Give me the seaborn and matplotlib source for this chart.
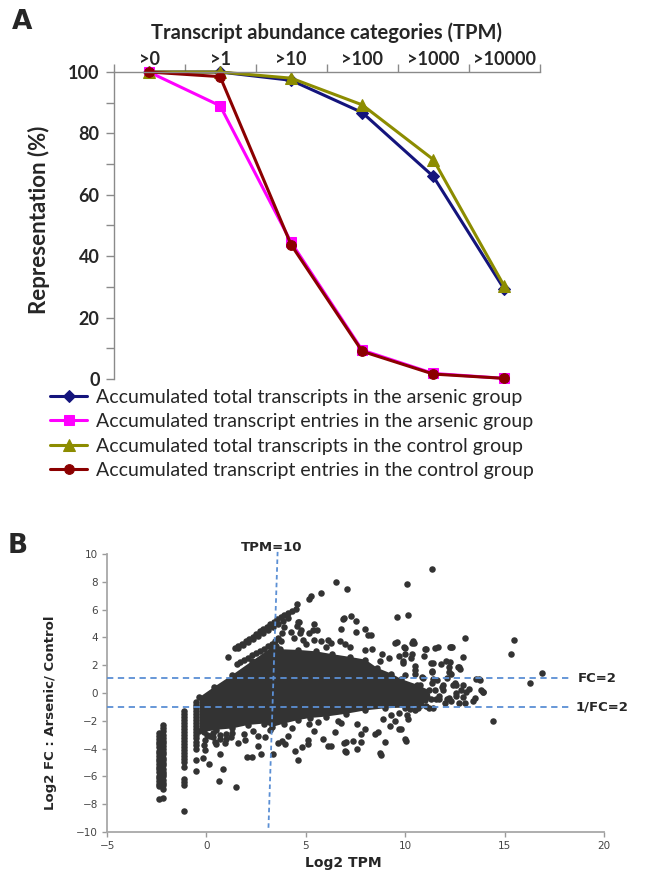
import numpy as np
import pandas as pd
import seaborn as sns
import matplotlib.pyplot as plt

# ---- panel A: accumulated representation per abundance category ----
categories = ['>0', '>1', '>10', '>100', '>1000', '>10000']
arsenic_total = [100, 100, 97.3, 86.8, 66.0, 29.2]
arsenic_entries = [100, 89.0, 44.5, 9.4, 1.8, 0.2]
control_total = [100, 100, 98.0, 89.3, 71.5, 30.2]
control_entries = [100, 98.5, 43.7, 9.0, 1.6, 0.2]
series_labels = ['Accumulated total transcripts in the arsenic group',
                 'Accumulated transcript entries in the arsenic group',
                 'Accumulated total transcripts in the control group',
                 'Accumulated transcript entries in the control group']

# ---- panel B: log2 FC vs log2 TPM ----
# outline of the solid dense core of the cloud
core_x = [-0.35, -0.1, 0.5, 1.3, 2.1, 2.9, 3.3, 3.9, 4.6, 5.2, 6.0, 7.0, 8.0, 9.0,
          10.0, 10.8, 11.3, 11.2, 10.6, 9.8, 9.3, 8.6, 8.0, 7.2, 6.3, 5.5, 4.6,
          3.7, 3.3, 2.3, 1.3, 0.4, -0.35]
core_y = [-2.7, -2.8, -2.65, -2.55, -2.3, -2.2, -2.45, -2.2, -1.95, -1.8, -1.7, -1.5,
          -1.25, -1.1, -1.05, -0.9, -0.4, 0.2, 0.6, 1.0, 1.4, 1.8, 2.4, 2.6, 2.8,
          3.0, 3.1, 3.15, 3.3, 2.3, 1.3, 0.45, -0.3]

# the two diagonal streaks above the core
streak_x = [1.45, 1.6, 1.8, 2.0, 2.15, 2.35, 2.5, 2.7, 2.85, 3.05, 3.2, 3.4, 3.55, 3.75,
            3.9, 4.1, 4.3, 4.5, 1.6, 1.85, 2.1, 2.35, 2.6, 2.85, 3.1, 3.35, 3.6, 3.85,
            4.1, 4.58, 5.15, 5.25, 5.75,
            1.54, 1.7, 1.9, 2.1, 2.3, 2.5, 2.7, 2.9, 3.1, 3.3, 3.45, 3.6, 3.8, 1.1]
streak_y = [3.2, 3.4, 3.55, 3.75, 3.9, 4.05, 4.25, 4.45, 4.6, 4.75, 4.95, 5.1, 5.3, 5.45,
            5.6, 5.75, 5.9, 6.05, 3.2, 3.45, 3.65, 3.85, 4.1, 4.3, 4.5, 4.75, 4.95, 5.2,
            5.4, 6.43, 6.76, 7.0, 7.22,
            2.1, 2.25, 2.4, 2.55, 2.7, 2.85, 3.0, 3.15, 3.35, 3.55, 3.75, 3.95, 4.3, 2.62]

# scattered points above the core
upper_x = [6.5, 7.06, 10.1, 11.33, 9.58, 10.15, 13.0, 15.46, 15.31, 16.9, 16.3,
           4.59, 4.72, 4.25, 4.42, 4.84, 5.18, 5.43, 3.91, 3.74, 3.49,
           7.26, 6.87, 7.52, 4.67, 5.43, 5.35, 6.75, 7.5, 7.97, 8.14, 9.58, 10.4,
           10.0, 11.0, 11.67, 12.35, 8.31, 6.7, 6.96, 6.11, 5.77, 6.28, 4.58, 4.75,
           8.82, 8.74, 9.67, 10.0, 10.35, 10.94, 11.28, 12.04, 12.2, 12.7, 12.9,
           11.36, 10.5, 9.9, 9.5, 9.94, 10.35, 11.5, 12.27, 12.65, 11.4, 11.82,
           12.24, 12.74, 12.32, 9.89, 10.3, 10.5, 9.97, 10.43, 11.06, 12.32, 5.56,
           8.27, 6.9, 7.2, 8.0, 9.2, 6.0, 5.0]
upper_y = [8.0, 7.5, 7.87, 8.94, 5.46, 5.63, 3.99, 3.82, 2.78, 1.45, 0.75,
           5.13, 4.35, 4.42, 3.95, 3.84, 4.3, 3.84, 4.78, 3.72, 3.36,
           5.53, 5.34, 5.18, 5.13, 4.96, 4.54, 4.59, 4.42, 4.59, 4.19, 3.65, 3.72,
           3.25, 3.18, 3.29, 3.32, 3.18, 3.72, 3.55, 3.84, 3.72, 3.6, 4.82, 4.54,
           2.78, 2.31, 2.66, 2.78, 2.78, 2.66, 2.19, 2.3, 1.84, 1.84, 2.61,
           1.6, 1.95, 2.19, 3.57, 3.33, 3.62, 3.2, 3.33, 1.88, 2.16, 2.07,
           2.25, 1.76, 1.4, 2.27, 2.52, 1.68, 1.3, 3.6, 3.14, 3.33, 4.54,
           4.18, 5.39, 3.3, 3.1, 2.5, 3.3, 3.5]

# right tail between the FC lines
right_x = [10.5, 11.36, 12.2, 13.7, 13.9, 13.4, 12.7, 12.0, 11.7, 12.55, 12.4, 11.36,
           10.5, 11.0, 10.2, 9.67, 10.5, 11.2, 12.2, 12.9, 11.9, 12.9, 13.2, 13.74,
           13.91, 13.5, 12.49, 12.82, 13.0, 12.58, 12.08, 11.57, 11.07, 10.65, 11.4,
           10.22, 13.57, 13.82, 10.85, 11.87, 12.55, 13.06, 11.7, 10.9, 10.73, 11.4,
           11.9, 11.6, 12.1, 11.5, 12.3]
right_y = [1.4, 1.5, 1.5, 0.97, 0.1, -0.6, -0.73, -0.73, -0.25, 0.0, 0.57, 0.69,
           0.45, -0.5, -0.96, -1.43, -1.2, -1.08, -0.35, -0.3, 0.2, 0.6, 0.3, 0.93,
           0.09, -0.35, 0.73, 0.2, -0.7, -0.22, -0.46, -0.41, -0.94, -1.06, -1.06,
           -1.18, 1.0, 0.19, 1.13, 0.42, 0.54, 0.07, -0.4, 1.07, 0.58, 1.0,
           0.6, 0.9, 1.1, 0.2, -0.6]

# scattered points below the core
lower_x = [-0.08, -0.1, -0.08, -0.17, 0.13, 0.67, 0.84, 0.64, 1.5, 2.27, 2.6, 3.36,
           4.6, 3.6, 3.95, 4.45, 4.8, 5.1, 1.6, 1.93, 0.92, 0.42, 0.34, 1.26, 0.34,
           0.67, 0.67, 1.0, 1.0, 0.05, 8.65, 8.99, 8.74, 10.0, 9.67, 9.25, 7.55,
           6.96, 6.28, 7.04, 7.8, 7.38, 7.97, 7.55, 6.79, 6.11, 5.86, 5.1, 5.43,
           5.18, 6.45, 7.8, 2.02, 2.75, 8.79, 7.02, 6.92, 10.04, 8.48, 1.9, 2.33,
           2.96, 3.79, 4.1, 3.2, 9.3, 10.1, 8.9, 9.5, 14.4, 10.13, 9.8, 1.3, 0.2,
           0.5, 2.6, 4.3, 5.6, 6.6]
lower_y = [-3.4, -3.75, -4.1, -4.7, -5.1, -4.4, -5.5, -6.3, -6.8, -4.6, -3.8, -4.4,
           -4.8, -3.6, -3.7, -4.2, -3.9, -3.65, -3.6, -3.4, -3.6, -3.5, -2.9, -3.2,
           -3.2, -3.0, -3.3, -2.95, -3.3, -3.0, -2.84, -3.5, -4.3, -3.3, -2.6, -2.37,
           -4.0, -4.14, -3.83, -3.5, -3.5, -3.43, -2.6, -2.25, -2.14, -3.78, -3.3,
           -3.4, -2.7, -2.26, -2.84, -2.96, -4.63, -4.39, -4.46, -4.27, -3.6, -3.42,
           -2.94, -2.94, -2.7, -3.18, -3.42, -3.06, -2.65, -1.6, -1.6, -1.9, -2.0,
           -2.02, -1.9, -2.62, -2.9, -3.1, -3.7, -3.1, -2.5, -2.1, -2.0]

# stacked columns at the low-abundance end
col1a_y = [-2.9, -3.1, -3.3, -3.55, -3.7, -3.9, -4.15, -4.3, -4.5, -4.75, -4.9, -5.1,
           -5.35, -5.5, -5.7, -5.95, -6.1, -6.3, -6.55, -6.7, -7.65]
col1b_y = [-2.3, -2.55, -2.75, -3.0, -3.25, -3.45, -3.6, -3.85, -4.05, -4.25, -4.4,
           -4.65, -4.85, -5.05, -5.2, -5.45, -5.65, -5.85, -6.0, -6.25, -6.45, -6.6,
           -6.9, -7.55]
col2_y = [-1.3, -1.5, -1.75, -1.95, -2.15, -2.4, -2.6, -2.8, -3.05, -3.25, -3.45,
          -3.7, -3.9, -4.1, -4.35, -4.55, -4.75, -5.0, -5.3, -6.2, -6.4, -6.6, -8.5]
col3_y = [-0.65, -0.85, -1.1, -1.3, -1.5, -1.75, -1.95, -2.15, -2.4, -2.6, -2.8,
          -3.05, -3.25, -3.5, -3.75, -4.0, -4.8, -5.6]
col_x = [-2.4, -2.17, -1.14, -0.55]

# guide lines
tpm_line_x = [3.12, 3.58]
tpm_line_y = [-9.7, 10.15]
fc_lines = [1.05, -1.0]
fc_line_end = 18.4

sns.set_style('white')
plt.rcParams['font.family'] = ['DejaVu Sans']

fig = plt.figure(figsize=(6.45, 8.72), dpi=100)

# ================= panel A =================
axa = fig.add_axes([0.176, 0.5654, 0.661, 0.352])
pos = np.arange(len(categories))
colors = ['#14147c', '#ff00ff', '#8c8c00', '#8b0000']
markers = ['D', 's', '^', 'o']
msizes = [6, 6.5, 8, 7]
for vals, lab, c, m, ms in zip([arsenic_total, arsenic_entries, control_total, control_entries],
                               series_labels, colors, markers, msizes):
    sns.lineplot(x=pos, y=vals, ax=axa, color=c, marker=m, markersize=ms, mec=c,
                 linewidth=2.2, label=lab, clip_on=False)

axa.set_xlim(-0.5, 5.5)
axa.set_ylim(0, 100)
axa.xaxis.tick_top()
axa.set_xticks(np.arange(-0.5, 6, 1))
axa.set_xticklabels([''] * 7)
axa.set_xticks(pos, minor=True)
axa.set_xticklabels(categories, minor=True, fontfamily='Lato', fontweight='bold', fontsize=13)
axa.tick_params(axis='x', which='major', length=6, width=1, color='#8a8a8a', direction='out')
axa.tick_params(axis='x', which='minor', length=0, pad=3, labeltop=True, labelbottom=False)
yt = np.arange(0, 101, 10)
axa.set_yticks(yt)
axa.set_yticklabels([str(v) if v % 20 == 0 else '' for v in yt],
                    fontfamily='Lato', fontweight='bold', fontsize=13)
axa.tick_params(axis='y', length=6, width=1, color='#8a8a8a', direction='out', pad=4, left=True)
for s in ['right', 'bottom']:
    axa.spines[s].set_visible(False)
for s in ['top', 'left']:
    axa.spines[s].set_color('#8a8a8a')
    axa.spines[s].set_linewidth(1)
axa.set_xlabel('')
axa.set_ylabel('')
axa.text(0.5, 1.127, 'Transcript abundance categories (TPM)', transform=axa.transAxes,
         ha='center', va='center', fontfamily='Lato', fontweight='bold', fontsize=14.5)
axa.text(-0.175, 0.518, 'Representation (%)', transform=axa.transAxes, rotation=90,
         ha='center', va='center', fontfamily='Lato', fontweight='bold', fontsize=16)

handles, labels = axa.get_legend_handles_labels()
axa.get_legend().remove()
fig.legend(handles, labels, loc='upper left', bbox_to_anchor=(0.078, 0.554), frameon=False,
           prop={'family': 'Lato', 'size': 14}, handlelength=1.9, handletextpad=0.45,
           labelspacing=0.38, borderpad=0, borderaxespad=0)

fig.text(0.018, 0.99, 'A', fontsize=19, fontweight='bold', va='top', ha='left')

# ================= panel B =================
axb = fig.add_axes([0.166, 0.0459, 0.7704, 0.3188])
dot = '#333333'
axb.fill(core_x, core_y, color=dot, lw=0, zorder=2)
cloud = pd.DataFrame({
    'tpm': core_x + streak_x + upper_x + right_x + lower_x
           + [col_x[0]] * len(col1a_y) + [col_x[1]] * len(col1b_y)
           + [col_x[2]] * len(col2_y) + [col_x[3]] * len(col3_y),
    'fc': core_y + streak_y + upper_y + right_y + lower_y + col1a_y + col1b_y + col2_y + col3_y,
})
sns.scatterplot(data=cloud, x='tpm', y='fc', ax=axb, color=dot, s=22, linewidth=0, zorder=3)

guide = '#5b8fd4'
axb.plot(tpm_line_x, tpm_line_y, color=guide, lw=1.3, dashes=(2.5, 1.8), zorder=4, clip_on=False)
for yv in fc_lines:
    axb.plot([-5, fc_line_end], [yv, yv], color=guide, lw=1.3, dashes=(3.5, 2.5), zorder=4)
axb.text(3.3, 10.45, 'TPM=10', ha='center', va='center', fontsize=9.5, fontweight='bold')
axb.text(18.7, fc_lines[0], 'FC=2', ha='left', va='center', fontsize=9.5, fontweight='bold')
axb.text(18.55, fc_lines[1], '1/FC=2', ha='left', va='center', fontsize=9.5, fontweight='bold')

axb.set_xlim(-5, 20)
axb.set_ylim(-10, 10)
axb.set_xticks(range(-5, 21, 5))
axb.set_yticks(range(-10, 11, 2))
axb.tick_params(axis='both', labelsize=7.5, labelcolor='#444444', color='#9a9a9a',
                length=3.5, width=1, direction='out', pad=3, left=True, bottom=True)
for s in ['right', 'top']:
    axb.spines[s].set_visible(False)
for s in ['left', 'bottom']:
    axb.spines[s].set_color('#a8a8a8')
    axb.spines[s].set_linewidth(1.3)
axb.set_xlabel('Log2 TPM', fontsize=10, fontweight='bold')
axb.set_ylabel('Log2 FC : Arsenic/ Control', fontsize=9.5, fontweight='bold')
axb.xaxis.set_label_coords(0.475, -0.085)
axb.yaxis.set_label_coords(-0.10, 0.43)

fig.text(0.012, 0.389, 'B', fontsize=19, fontweight='bold', va='top', ha='left')

fig.savefig('out.png', dpi=100)
